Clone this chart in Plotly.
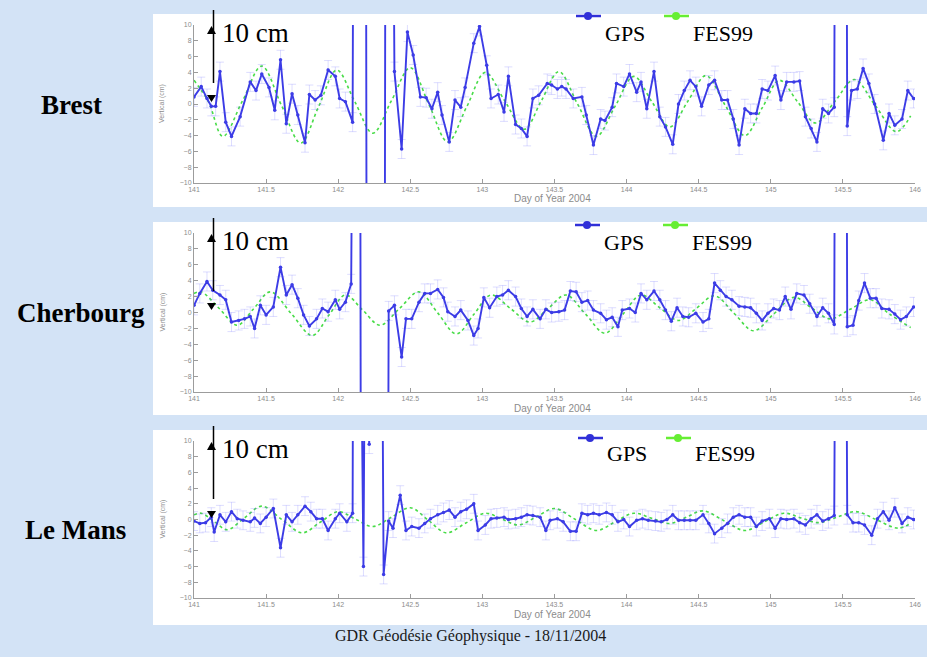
import plotly.graph_objects as go

W, H = 927, 657

# ---- axis ticks -------------------------------------------------------------
x_ticks = [141, 141.5, 142, 142.5, 143, 143.5, 144, 144.5, 145, 145.5, 146]
x_tick_text = ["141", "141.5", "142", "142.5", "143", "143.5", "144", "144.5", "145", "145.5", "146"]
y_ticks = [-10, -8, -6, -4, -2, 0, 2, 4, 6, 8, 10]

stations = ["Brest", "Cherbourg", "Le Mans"]

# ---- GPS vertical displacement (cm), day of year 2004 -----------------------
brest_gps_day = [
    141.00, 141.05, 141.09, 141.12, 141.15, 141.18, 141.22, 141.26, 141.32, 141.39,
    141.43, 141.47, 141.52, 141.56, 141.60, 141.64, 141.68, 141.72, 141.77, 141.80,
    141.84, 141.88, 141.93, 141.98, 142.01, 142.05, 142.10, 142.11, 142.19, 142.20,
    142.32, 142.33, 142.37, 142.39, 142.44, 142.48, 142.52, 142.57, 142.61, 142.65,
    142.69, 142.72, 142.77, 142.81, 142.85, 142.88, 142.94, 142.98, 143.03, 143.06,
    143.11, 143.15, 143.18, 143.23, 143.27, 143.31, 143.35, 143.39, 143.45, 143.48,
    143.52, 143.55, 143.58, 143.63, 143.69, 143.72, 143.77, 143.82, 143.85, 143.90,
    143.93, 143.98, 144.02, 144.07, 144.10, 144.14, 144.19, 144.23, 144.27, 144.32,
    144.36, 144.40, 144.44, 144.48, 144.52, 144.57, 144.61, 144.66, 144.70, 144.74,
    144.78, 144.82, 144.86, 144.90, 144.94, 144.98, 145.03, 145.07, 145.11, 145.16,
    145.20, 145.24, 145.28, 145.32, 145.36, 145.40, 145.44, 145.45, 145.52, 145.53,
    145.56, 145.60, 145.64, 145.68, 145.72, 145.78, 145.82, 145.86, 145.91, 145.95,
    145.99,
]
brest_gps_cm = [
    0.9, 2.2, 0.7, -0.3, -0.3, 4.1, -2.3, -4.1, -1.6, 2.8,
    1.7, 3.8, 2.1, -0.8, 5.6, -2.5, 1.3, -1.4, -4.9, 1.2,
    0.5, 1.1, 4.3, 3.5, 0.7, 0.3, -2.3, 60, 60, -60,
    -60, 60, 60, 4.1, -5.7, 9.1, 6.2, 0.9, 0.8, -0.6,
    1.5, -1.4, -4.8, 0.5, -0.4, 2.1, 7.7, 9.8, 4.9, 0.7,
    1.2, -1.0, 3.5, -2.6, -3.1, -4.1, 0.7, 1.1, 2.6, 2.4,
    1.9, 2.2, 1.9, 0.7, 0.9, -1.4, -5.2, -1.9, -2.1, -0.4,
    2.6, 2.2, 3.8, 1.5, 2.8, -0.6, 4.1, -1.6, -2.9, -5.1,
    0.0, 1.7, 3.0, 2.2, -0.3, 2.4, 3.0, 0.5, 0.5, -1.9,
    -5.2, -0.6, -1.2, -1.2, 1.9, 1.7, 3.6, 0.5, 2.8, 2.8,
    2.9, -1.6, -3.1, -4.8, -0.6, -1.2, -0.4, 60, 60, -2.8,
    1.7, 1.9, 4.5, 2.6, 0.0, -4.6, -1.2, -2.7, -1.9, 1.7,
    0.7,
]

cherbourg_gps_day = [
    141.00, 141.04, 141.09, 141.13, 141.18, 141.22, 141.26, 141.31, 141.35, 141.39,
    141.42, 141.46, 141.50, 141.55, 141.60, 141.64, 141.68, 141.72, 141.76, 141.80,
    141.85, 141.89, 141.93, 141.98, 142.01, 142.05, 142.09, 142.11, 142.15, 142.16,
    142.34, 142.35, 142.39, 142.44, 142.47, 142.51, 142.56, 142.60, 142.64, 142.69,
    142.73, 142.76, 142.81, 142.85, 142.90, 142.94, 142.97, 143.01, 143.05, 143.10,
    143.14, 143.18, 143.23, 143.27, 143.31, 143.35, 143.40, 143.44, 143.48, 143.53,
    143.57, 143.61, 143.65, 143.69, 143.73, 143.77, 143.82, 143.86, 143.90, 143.94,
    143.97, 144.02, 144.06, 144.10, 144.14, 144.19, 144.23, 144.27, 144.31, 144.35,
    144.39, 144.43, 144.48, 144.53, 144.57, 144.61, 144.65, 144.69, 144.73, 144.78,
    144.82, 144.86, 144.90, 144.94, 144.98, 145.02, 145.06, 145.10, 145.14, 145.18,
    145.23, 145.27, 145.32, 145.36, 145.40, 145.44, 145.45, 145.52, 145.53, 145.57,
    145.61, 145.65, 145.69, 145.73, 145.77, 145.82, 145.86, 145.90, 145.94, 145.99,
]
cherbourg_gps_cm = [
    0.9, 2.4, 3.9, 2.8, 2.2, 1.6, -1.2, -1.0, -0.8, -0.5,
    -2.0, 0.9, -0.3, 0.7, 5.7, 2.2, 3.5, 1.8, -0.3, -1.7,
    -0.8, 0.5, 0.1, 1.6, 0.4, 1.3, 3.6, 60, 60, -60,
    -60, 0.2, 0.9, -5.6, -0.8, -0.8, 1.3, 2.4, 2.4, 2.9,
    1.9, 0.1, -0.5, 0.3, -1.0, -2.9, -2.0, 1.9, 0.6, 2.0,
    2.2, 2.8, 2.0, 0.5, -0.5, 0.4, -0.8, 0.4, 0.0, 0.1,
    0.3, 2.7, 2.6, 1.3, 1.5, 0.3, -0.1, -0.9, -0.6, -1.8,
    0.3, 0.5, 0.0, 2.4, 1.6, 2.7, 1.6, 0.3, -1.1, 0.6,
    -0.5, -0.6, -0.1, -1.2, -0.8, 3.7, 2.8, 2.0, 1.6, 0.8,
    0.7, 0.6, -0.1, -1.0, -0.1, 0.5, 0.3, 2.0, 0.4, 2.4,
    2.2, 1.1, -0.5, 0.6, -0.1, -1.5, 60, 60, -1.8, -1.6,
    1.5, 3.7, 1.8, 1.8, 0.5, 0.4, -0.2, -0.9, -0.5, 0.7,
]

lemans_gps_day = [
    141.00, 141.04, 141.08, 141.12, 141.14, 141.18, 141.22, 141.26, 141.30, 141.34,
    141.39, 141.42, 141.46, 141.50, 141.55, 141.60, 141.64, 141.68, 141.72, 141.77,
    141.81, 141.85, 141.89, 141.93, 141.98, 142.01, 142.06, 142.10, 142.105, 142.15,
    142.175, 142.19, 142.215, 142.225, 142.30, 142.315, 142.35, 142.38, 142.43, 142.47,
    142.51, 142.56, 142.60, 142.64, 142.69, 142.73, 142.77, 142.81, 142.85, 142.89,
    142.94, 142.97, 143.02, 143.06, 143.10, 143.15, 143.18, 143.23, 143.27, 143.31,
    143.35, 143.40, 143.44, 143.47, 143.52, 143.56, 143.61, 143.65, 143.69, 143.73,
    143.77, 143.81, 143.86, 143.90, 143.94, 143.98, 144.02, 144.07, 144.11, 144.15,
    144.20, 144.24, 144.28, 144.32, 144.36, 144.40, 144.44, 144.48, 144.53, 144.57,
    144.61, 144.66, 144.70, 144.74, 144.78, 144.82, 144.86, 144.90, 144.94, 144.99,
    145.03, 145.07, 145.11, 145.16, 145.20, 145.24, 145.28, 145.32, 145.36, 145.40,
    145.44, 145.45, 145.52, 145.53, 145.57, 145.61, 145.65, 145.70, 145.74, 145.78,
    145.82, 145.86, 145.91, 145.95, 145.99,
]
lemans_gps_cm = [
    -0.2, -0.5, -0.4, 0.3, -1.6, 0.6, -0.3, 1.0, 0.1, -0.1,
    -0.3, 0.2, -0.5, 0.3, 1.4, -3.6, 0.6, -0.3, 0.6, 1.7,
    1.0, 0.1, 0.1, -1.4, 0.1, 0.8, -0.3, 0.8, 40, 40,
    -6.0, 40, 9.6, 40, 40, -7.0, -0.2, -1.1, 3.1, -1.4,
    -0.9, -1.1, -0.5, 0.1, 0.6, 0.9, 1.2, 0.3, 1.0, 1.3,
    2.0, -1.4, -0.7, 0.1, 0.2, 0.3, 0.0, 0.1, 0.3, 0.6,
    0.5, 0.3, -1.4, -0.1, 0.1, -0.3, -1.5, -1.5, 0.8, 0.6,
    0.8, 0.6, 0.9, 0.6, -0.3, 0.0, -0.9, -0.1, 0.1, -0.1,
    -0.2, -0.3, 0.0, 0.6, -0.1, -0.1, -0.1, -0.1, 0.6, -0.5,
    -1.8, -1.1, -0.5, 0.3, 0.6, 0.3, 0.3, -0.9, -0.2, 0.1,
    -1.1, 0.1, 0.0, 0.1, -0.4, -0.7, 0.1, 0.6, -0.2, 0.1,
    0.5, 40, 40, 0.6, -0.4, -0.4, -0.7, -2.0, 0.1, 1.0,
    -0.1, 1.5, -0.5, 0.3, 0.0,
]

# ---- FES99 tide model prediction (cm) ---------------------------------------
brest_fes_day = [
    141.00, 141.10, 141.20, 141.335, 141.47, 141.605, 141.74, 141.865, 141.99, 142.115,
    142.24, 142.37, 142.50, 142.63, 142.76, 142.89, 143.02, 143.155, 143.29, 143.41,
    143.53, 143.66, 143.79, 143.92, 144.05, 144.175, 144.30, 144.425, 144.55, 144.685,
    144.82, 144.94, 145.06, 145.185, 145.31, 145.445, 145.58, 145.725, 145.87, 145.97,
]
brest_fes_cm = [
    3.0, 0.3, -4.1, 0.35, 4.8, -0.1, -4.95, -0.3, 4.3, 0.3,
    -3.7, 0.45, 4.6, -0.1, -4.8, -0.4, 4.0, 0.4, -3.2, 0.45,
    4.1, 0.0, -4.1, -0.3, 3.5, 0.3, -2.9, 0.35, 3.6, -0.2,
    -4.0, -0.5, 3.0, 0.3, -2.4, 0.35, 3.1, -0.2, -3.5, -1.5,
]

cherbourg_fes_day = [
    141.00, 141.05, 141.175, 141.30, 141.415, 141.53, 141.675, 141.82, 141.935, 142.05,
    142.17, 142.29, 142.425, 142.56, 142.69, 142.82, 142.94, 143.06, 143.195, 143.33,
    143.455, 143.58, 143.715, 143.85, 143.975, 144.10, 144.23, 144.36, 144.485, 144.61,
    144.745, 144.88, 145.02, 145.16, 145.285, 145.41, 145.55, 145.69, 145.82, 145.97,
]
cherbourg_fes_cm = [
    2.4, 2.6, 0.5, -1.6, 0.5, 2.6, -0.15, -2.9, -0.35, 2.2,
    0.3, -1.6, 0.5, 2.6, -0.05, -2.7, -0.25, 2.2, 0.5, -1.2,
    0.5, 2.2, -0.2, -2.6, -0.2, 2.2, 0.6, -1.0, 0.55, 2.1,
    -0.1, -2.3, -0.2, 1.9, 0.55, -0.8, 0.4, 1.6, -0.15, -1.9,
]

lemans_fes_day = [
    141.00, 141.05, 141.14, 141.23, 141.35, 141.47, 141.61, 141.75, 141.875, 142.00,
    142.12, 142.24, 142.37, 142.50, 142.625, 142.75, 142.885, 143.02, 143.135, 143.25,
    143.375, 143.50, 143.645, 143.79, 143.92, 144.05, 144.175, 144.30, 144.415, 144.53,
    144.675, 144.82, 144.955, 145.09, 145.21, 145.33, 145.46, 145.59, 145.735, 145.88,
    145.97,
]
lemans_fes_cm = [
    0.6, 0.8, -0.25, -1.3, 0.2, 1.7, 0.0, -1.7, -0.35, 1.0,
    0.05, -0.9, 0.3, 1.5, -0.1, -1.7, -0.45, 0.8, 0.05, -0.7,
    0.35, 1.4, 0.0, -1.4, -0.3, 0.8, 0.15, -0.5, 0.3, 1.1,
    -0.15, -1.4, -0.3, 0.8, 0.2, -0.4, 0.3, 1.0, -0.05, -1.1,
    -0.5,
]

gps_sigma_cm = 1.2  # formal uncertainty drawn as error bars

series = [
    (brest_gps_day, brest_gps_cm, brest_fes_day, brest_fes_cm),
    (cherbourg_gps_day, cherbourg_gps_cm, cherbourg_fes_day, cherbourg_fes_cm),
    (lemans_gps_day, lemans_gps_cm, lemans_fes_day, lemans_fes_cm),
]

# ---- page layout (pixels from the top-left corner) --------------------------
panels = [
    dict(top=14, bottom=207, ax_top=25, ax_bot=183, label_x=71, label_y=105,
         leg_y=16, leg_text_y=33, leg_dx=0),
    dict(top=222, bottom=415, ax_top=233, ax_bot=392, label_x=81, label_y=313,
         leg_y=225, leg_text_y=242, leg_dx=-1),
    dict(top=430, bottom=625, ax_top=441, ax_bot=598, label_x=75, label_y=530,
         leg_y=438, leg_text_y=453, leg_dx=2),
]
AX_LEFT, AX_RIGHT = 194, 915
PANEL_LEFT, PANEL_RIGHT = 153, 927

BG = "#d3e3f6"
GPS_BLUE = "#3c3ce6"
FES_GREEN = "#48dc48"
AXIS_GREY = "#9c9c9c"
LABEL_GREY = "#8c8c8c"


def px(x):
    return x / W


def py(y):
    return 1 - y / H


fig = go.Figure()
shapes = []
annotations = []
layout_axes = {}

for i, (gd, gv, fd, fv) in enumerate(series):
    p = panels[i]
    sfx = "" if i == 0 else str(i + 1)
    xa, ya = "x" + sfx, "y" + sfx

    fig.add_trace(go.Scatter(
        x=fd, y=fv, xaxis=xa, yaxis=ya, mode="lines",
        line=dict(color=FES_GREEN, width=1.6, dash="dot", shape="spline", smoothing=1.0),
        hoverinfo="skip", showlegend=False,
    ))
    fig.add_trace(go.Scatter(
        x=gd, y=gv, xaxis=xa, yaxis=ya, mode="lines+markers",
        line=dict(color=GPS_BLUE, width=1.9),
        marker=dict(size=3.5, color=GPS_BLUE),
        error_y=dict(type="constant", value=gps_sigma_cm, color="rgba(100,100,255,0.22)",
                     thickness=1, width=4),
        showlegend=False,
    ))

    layout_axes["xaxis" + sfx] = dict(
        domain=[px(AX_LEFT), px(AX_RIGHT)], anchor=ya, range=[141, 146],
        tickmode="array", tickvals=x_ticks, ticktext=x_tick_text,
        showline=True, linecolor=AXIS_GREY, linewidth=1, ticks="inside", ticklen=4,
        tickcolor=AXIS_GREY, tickfont=dict(size=7, color=LABEL_GREY, family="Liberation Sans"),
        showgrid=False, zeroline=False, automargin=False,
    )
    layout_axes["yaxis" + sfx] = dict(
        domain=[py(p["ax_bot"]), py(p["ax_top"])], anchor=xa, range=[-10, 10],
        tickmode="array", tickvals=y_ticks,
        showline=True, linecolor=AXIS_GREY, linewidth=1, ticks="inside", ticklen=4,
        tickcolor=AXIS_GREY, tickfont=dict(size=7, color=LABEL_GREY, family="Liberation Sans"),
        showgrid=False, zeroline=False, automargin=False,
    )

    # axis titles
    annotations.append(dict(text="Day of Year 2004", xref="paper", yref="paper",
                            x=px(552), y=py(p["ax_bot"] + 16), xanchor="center",
                            yanchor="middle", showarrow=False,
                            font=dict(size=10, color=LABEL_GREY, family="Liberation Sans")))
    annotations.append(dict(text="Vertical (cm)", xref="paper", yref="paper",
                            x=px(162), y=py((p["ax_top"] + p["ax_bot"]) / 2), textangle=-90,
                            xanchor="center", yanchor="middle", showarrow=False,
                            font=dict(size=7, color=LABEL_GREY, family="Liberation Sans")))

    # white panel behind each plot
    shapes.append(dict(type="rect", xref="paper", yref="paper", layer="below",
                       x0=px(PANEL_LEFT), x1=px(PANEL_RIGHT), y0=py(p["bottom"]), y1=py(p["top"]),
                       fillcolor="white", line=dict(width=0)))

    # 10 cm scale arrow
    at = p["ax_top"]
    shapes.append(dict(type="line", xref="paper", yref="paper",
                       x0=px(213.5), x1=px(213.5), y0=py(at - 15), y1=py(at + 58),
                       line=dict(color="black", width=1.5)))
    cx = 211.5
    shapes.append(dict(type="path", xref="paper", yref="paper",
                       path=f"M {px(cx)},{py(at + 1)} L {px(cx - 4.5)},{py(at + 9)} "
                            f"L {px(cx + 4.5)},{py(at + 9)} Z",
                       fillcolor="black", line=dict(width=0)))
    shapes.append(dict(type="path", xref="paper", yref="paper",
                       path=f"M {px(cx)},{py(at + 77)} L {px(cx - 4.5)},{py(at + 70)} "
                            f"L {px(cx + 4.5)},{py(at + 70)} Z",
                       fillcolor="black", line=dict(width=0)))
    annotations.append(dict(text="10 cm", xref="paper", yref="paper", x=px(220), y=py(at + 8),
                            xanchor="left", yanchor="middle", showarrow=False,
                            font=dict(family="Liberation Serif", size=27, color="black")))

    # legend keys
    dx, ly, lty = p["leg_dx"], p["leg_y"], p["leg_text_y"]
    for (l0, l1, lm, tx, label, col) in [
        (576, 601, 588, 603, "GPS", "#3030d8"),
        (664, 689, 676, 691, "FES99", "#66ee33"),
    ]:
        shapes.append(dict(type="line", xref="paper", yref="paper",
                           x0=px(l0 + dx), x1=px(l1 + dx), y0=py(ly), y1=py(ly),
                           line=dict(color=col, width=2.5)))
        shapes.append(dict(type="circle", xref="paper", yref="paper",
                           x0=px(lm + dx - 4), x1=px(lm + dx + 4), y0=py(ly + 4), y1=py(ly - 4),
                           fillcolor=col, line=dict(width=0)))
        annotations.append(dict(text=label, xref="paper", yref="paper", x=px(tx + dx), y=py(lty),
                                xanchor="left", yanchor="middle", showarrow=False,
                                font=dict(family="Liberation Serif", size=22, color="black")))

    # station name
    annotations.append(dict(text=f"<b>{stations[i]}</b>", xref="paper", yref="paper",
                            x=px(p["label_x"]), y=py(p["label_y"]), xanchor="center",
                            yanchor="middle", showarrow=False,
                            font=dict(family="Liberation Serif", size=27, color="black")))

annotations.append(dict(text="GDR Géodésie Géophysique - 18/11/2004", xref="paper", yref="paper",
                        x=px(471), y=py(636), xanchor="center", yanchor="middle",
                        showarrow=False,
                        font=dict(family="Liberation Serif", size=16, color="#1a1a1a")))

fig.update_layout(
    width=W, height=H, margin=dict(l=0, r=0, t=0, b=0, autoexpand=False),
    paper_bgcolor=BG, plot_bgcolor="white",
    shapes=shapes, annotations=annotations, showlegend=False,
    **layout_axes,
)

fig.write_html("out.html")
